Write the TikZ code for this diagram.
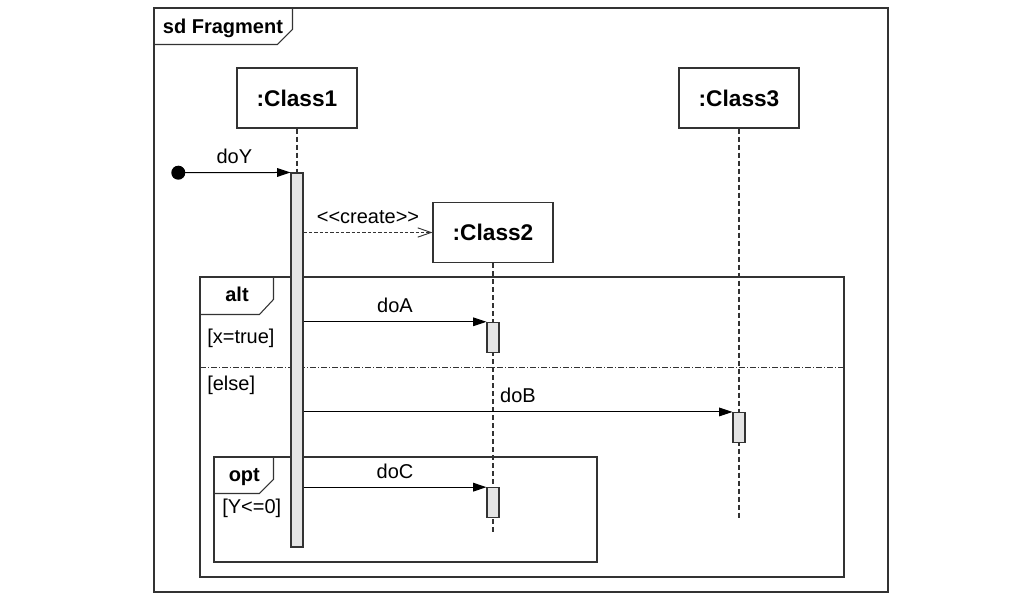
\documentclass[tikz,border=0pt]{standalone}
\usepackage{fontspec}
\setmainfont{Liberation Sans}
\usetikzlibrary{arrows.meta}
\definecolor{linec}{HTML}{333333}
\definecolor{barfill}{HTML}{E4E4E4}
\tikzset{
  lbl/.style={font=\fontsize{15}{18}\selectfont, inner sep=0pt},
  tablbl/.style={font=\fontsize{15}{18}\selectfont\bfseries, inner sep=0pt, anchor=base},
  cls/.style={draw=linec, line width=0.8pt, fill=white, font=\fontsize{17}{20}\selectfont\bfseries,
    minimum width=90pt, minimum height=45pt, inner sep=0pt},
  actbar/.style={draw=linec, line width=0.8pt, fill=barfill, minimum width=9pt, inner sep=0pt},
  frame/.style={draw=linec, line width=0.8pt, inner sep=0pt},
  tabline/.style={draw=linec, line width=0.8pt},
  life/.style={draw=linec, line width=0.8pt, dash pattern=on 3.75pt off 2.25pt},
  msg/.style={draw=black, line width=0.75pt, -{Triangle[length=10pt,width=6.5pt]}},
  createmsg/.style={draw=linec, line width=0.7pt, dash pattern=on 2.5pt off 1.5pt,
    -{Straight Barb[length=10pt,width=7pt]}},
  sep/.style={draw=linec, line width=0.6pt, dash pattern=on 4.5pt off 1.5pt on 0.75pt off 1.5pt},
  msglbl/.style={lbl, pos=0.5, anchor=base, yshift=6.75pt}
}
\begin{document}
\begin{tikzpicture}[x=0.75pt,y=-0.75pt]
\useasboundingbox (0,0) rectangle (1032,603);
% frames
\node[frame, minimum width=550.5pt, minimum height=438pt] (outer) at (521,300) {};
\draw[tabline] (outer.north west) ++(139,0) -- ++(0,22) -- ++(-15,15) -- ++(-124,0);
\node[tablbl] (sdlbl) at (223,33) {sd Fragment};

% lifeline heads
\node[cls] (c1) at (297,98) {:Class1};
\node[cls] (c3) at (739,98) {:Class3};
\node[cls] (c2) at (493,232.5) {:Class2};

% alt and opt frames
\node[frame, minimum width=483pt, minimum height=225pt] (alt) at (522,427) {};
\draw[tabline] (alt.north west) ++(74,0) -- ++(0,23) -- ++(-14,15) -- ++(-60,0);
\node[tablbl] (altlbl) at (237,301.7) {alt};
\coordinate (sepL) at (200,367.7);
\coordinate (sepR) at (844,367.7);
\draw[sep] (sepL) -- (sepR);
\node[lbl, anchor=base west] (g1) at (207,343) {[x=true]};
\node[lbl, anchor=base west] (g2) at (207,390) {[else]};

\node[frame, minimum width=287.25pt, minimum height=78.75pt] (opt) at (405.5,509.5) {};
\draw[tabline] (opt.north west) ++(60,0) -- ++(0,23) -- ++(-14,14) -- ++(-46,0);
\node[tablbl] (optlbl) at (244.3,481.7) {opt};
\node[lbl, anchor=base west] (g3) at (222,513.3) {[Y<=0]};

% lifelines
\coordinate (end2) at (493,532);
\coordinate (end3) at (739,517.5);
\node[actbar, minimum height=280.5pt] (bar1) at (297,360) {};
\draw[life] (c1.south) -- (bar1.north);
\draw[life] (c2.south) -- (end2);
\draw[life] (c3.south) -- (end3);

% activation bars
\node[actbar, minimum height=22.5pt] (barA) at (493,337.3) {};
\node[actbar, minimum height=22.5pt] (barB) at (739,427.5) {};
\node[actbar, minimum height=22.5pt] (barC) at (493,502.7) {};

% messages
\node[circle, fill=black, minimum size=10.5pt, inner sep=0pt] (start) at (178.3,172.7) {};
\draw[msg] (start.center) -- (bar1.north west) node[msglbl] {doY};
\draw[createmsg] (bar1.east |- c2.west) -- (c2.west) node[msglbl] {{<}{<}create{>}{>}};
\draw[msg] (bar1.east |- barA.north) -- (barA.north west) node[msglbl] {doA};
\draw[msg] (bar1.east |- barB.north) -- (barB.north west) node[msglbl] {doB};
\draw[msg] (bar1.east |- barC.north) -- (barC.north west) node[msglbl] {doC};
\end{tikzpicture}
\end{document}
